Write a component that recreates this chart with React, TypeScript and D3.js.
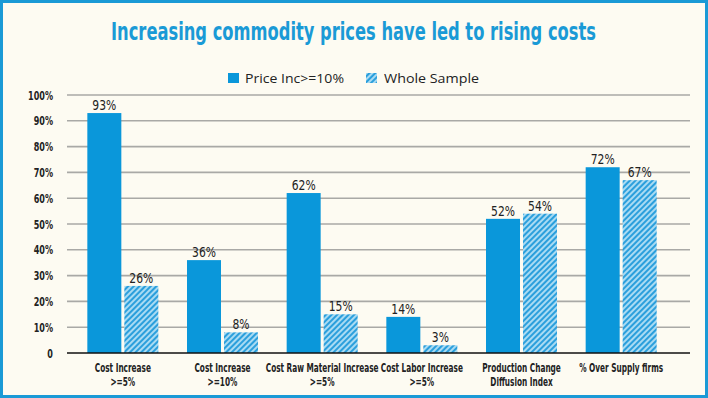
import React, { useRef, useEffect } from 'react';
import * as d3 from 'd3';

const categories = [
  ['Cost Increase', '>=5%'],
  ['Cost Increase', '>=10%'],
  ['Cost Raw Material Increase', '>=5%'],
  ['Cost Labor Increase', '>=5%'],
  ['Production Change', 'Diffusion Index'],
  ['% Over Supply firms'],
];
const priceInc = [93, 36, 62, 14, 52, 72];
const wholeSample = [26, 8, 15, 3, 54, 67];
const seriesNames = ['Price Inc>=10%', 'Whole Sample'];
const yTicks = [0, 10, 20, 30, 40, 50, 60, 70, 80, 90, 100];
const title = 'Increasing commodity prices have led to rising costs';

const W = 708;
const H = 398;
const BLUE = '#0a97da';
const COND = '"DejaVu Sans Condensed", sans-serif';

function App() {
  const ref = useRef<SVGSVGElement>(null);

  useEffect(() => {
    const svg = d3.select(ref.current);
    svg.selectAll('*').remove();

    var margin = { top: 95, bottom: 353, left: 67, right: 690 };

    // squeeze a text horizontally: sample string should end up targetW wide
    const squeezeFactor = (sample: string, size: number, weight: string, targetW: number) => {
      const t = svg.append('text')
        .attr('font-family', COND).attr('font-size', size).attr('font-weight', weight)
        .text(sample);
      const w = (t.node() as SVGTextElement).getComputedTextLength();
      t.remove();
      return targetW / w;
    };

    const placeText = (g: any, x: number, yy: number, k: number, txt: string, anchor: string) => {
      return g.append('text')
        .attr('transform', `translate(${x},${yy}) scale(${k},1)`)
        .attr('text-anchor', anchor)
        .text(txt);
    };

    // hatch pattern
    const defs = svg.append('defs');
    const pat = defs.append('pattern')
      .attr('id', 'hatch')
      .attr('patternUnits', 'userSpaceOnUse')
      .attr('width', 4)
      .attr('height', 4)
      .attr('patternTransform', 'rotate(45)');
    pat.append('rect').attr('width', 4).attr('height', 4).attr('fill', '#a9dbf3');
    pat.append('rect').attr('width', 2).attr('height', 4).attr('fill', '#2b9fdc');

    // background + frame
    svg.append('rect')
      .attr('x', 1.5).attr('y', 1.5)
      .attr('width', W - 3).attr('height', H - 3)
      .attr('fill', '#fdfbf2')
      .attr('stroke', '#1a9ad6')
      .attr('stroke-width', 3);

    // title
    const kt = squeezeFactor(title, 25, 'bold', 485);
    const tg = svg.append('g')
      .attr('font-family', COND)
      .attr('font-weight', 'bold')
      .attr('font-size', 25)
      .attr('fill', '#1a9ad6');
    placeText(tg, 353.5, 40, kt, title, 'middle');

    // legend
    const lg = svg.append('g').attr('font-family', '"Open Sans", sans-serif').attr('font-size', 13).attr('fill', '#222');
    lg.append('rect').attr('x', 228).attr('y', 73).attr('width', 11).attr('height', 10).attr('fill', BLUE);
    lg.append('text').attr('x', 245).attr('y', 83).attr('textLength', 99).attr('lengthAdjust', 'spacingAndGlyphs').text(seriesNames[0]);
    lg.append('rect').attr('x', 366).attr('y', 73).attr('width', 11).attr('height', 10).attr('fill', 'url(#hatch)');
    lg.append('text').attr('x', 384).attr('y', 83).attr('textLength', 95).attr('lengthAdjust', 'spacingAndGlyphs').text(seriesNames[1]);

    var y = d3.scaleLinear().domain([0, 100]).range([margin.bottom, margin.top]);

    var x = d3.scaleBand()
      .domain(d3.range(categories.length).map(String))
      .range([73, 671])
      .paddingInner(0.3)
      .paddingOuter(0.15);

    // gridlines
    svg.append('g')
      .selectAll('line')
      .data(yTicks.filter(t => t > 0))
      .join('line')
      .attr('x1', margin.left)
      .attr('x2', margin.right)
      .attr('y1', d => y(d))
      .attr('y2', d => y(d))
      .attr('stroke', '#a9a9a6')
      .attr('stroke-width', 1.6);

    // y labels
    const ky = squeezeFactor('100%', 12, 'bold', 25);
    const yg = svg.append('g')
      .attr('font-family', COND)
      .attr('font-weight', 'bold')
      .attr('font-size', 12)
      .attr('fill', '#222');
    yTicks.forEach(d => placeText(yg, 53, y(d) + 4.5, ky, d === 0 ? '0' : d + '%', 'end'));

    const bw = 34;
    const gap = 3;
    const groupW = bw * 2 + gap;
    const kb = squeezeFactor('93%', 14, 'normal', 24);

    const bars = svg.append('g');
    const lab = svg.append('g')
      .attr('font-family', COND)
      .attr('font-size', 14)
      .attr('fill', '#222');
    [priceInc, wholeSample].forEach((vals, s) => {
      const bx = (i: number) => x(String(i))! + x.bandwidth() / 2 - groupW / 2 + s * (bw + gap);
      bars.append('g')
        .selectAll('rect')
        .data(vals)
        .join('rect')
        .attr('x', (d, i) => bx(i))
        .attr('y', d => y(d))
        .attr('width', bw)
        .attr('height', d => y(0) - y(d))
        .attr('fill', s === 0 ? BLUE : 'url(#hatch)');

      vals.forEach((d, i) => placeText(lab, bx(i) + bw / 2, y(d) - 3, kb, d + '%', 'middle'));
    });

    // baseline
    svg.append('line')
      .attr('x1', margin.left).attr('x2', margin.right)
      .attr('y1', y(0)).attr('y2', y(0))
      .attr('stroke', '#111')
      .attr('stroke-width', 1.6);

    // category labels
    const kc = squeezeFactor('Cost Raw Material Increase', 12, 'bold', 113);
    const cl = svg.append('g')
      .attr('font-family', COND)
      .attr('font-weight', 'bold')
      .attr('font-size', 12)
      .attr('fill', '#222');
    categories.forEach((lines, i) => {
      lines.forEach((t, j) => {
        placeText(cl, x(String(i))! + x.bandwidth() / 2, 372 + j * 14, kc, t, 'middle');
      });
    });
  }, []);

  return (
    <div style={{ position: 'absolute', left: 0, top: 0 }}>
      <svg ref={ref} width={W} height={H} style={{ display: 'block' }} />
    </div>
  );
}

export default App;
